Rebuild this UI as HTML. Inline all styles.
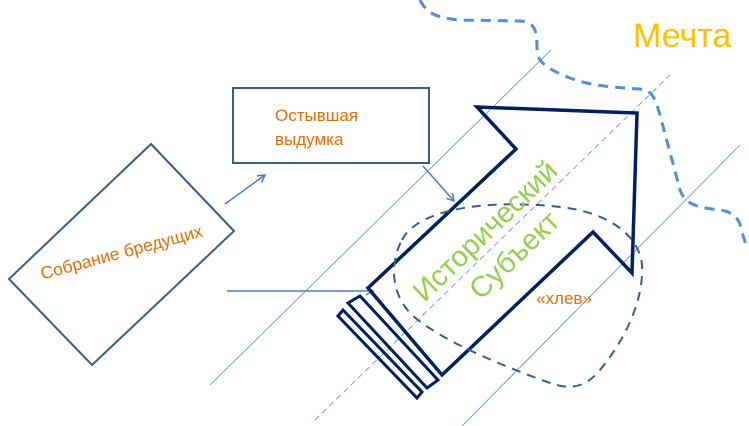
<!DOCTYPE html>
<html><head><meta charset="utf-8"><style>
html,body{margin:0;padding:0;background:#fff}
svg{display:block}
text{font-family:"Liberation Sans","DejaVu Sans",sans-serif}
</style></head><body>
<svg width="749" height="426" viewBox="0 0 749 426" xmlns="http://www.w3.org/2000/svg">
<defs>
<marker id="ah" markerWidth="10" markerHeight="10" refX="8" refY="5" orient="auto" markerUnits="userSpaceOnUse">
<path d="M1,1 L8,5 L1,9" fill="none" stroke="#4A7EBB" stroke-width="1.5"/>
</marker>
</defs>
<line x1="210" y1="385" x2="551" y2="50" stroke="#5B8BD0" stroke-width="0.8"/>
<line x1="315" y1="420" x2="670" y2="75" stroke="#5B8BD0" stroke-width="0.8" stroke-dasharray="6,4"/>
<line x1="462" y1="426" x2="740" y2="145" stroke="#5B8BD0" stroke-width="0.8"/>
<path d="M420,0 C425,10 432,18 460,20 L520,21 C535,22 537,30 537,50 C538,62 545,68 570,78 C590,86 620,88 640,89 C652,90 655,98 660,115 L680,190 C685,205 700,208 720,210 C735,212 740,220 742,232 L746,245" fill="none" stroke="#558ED5" stroke-width="3" stroke-dasharray="10,7"/>
<text x="633" y="47" font-size="34" fill="#FFC000">Мечта</text>
<polygon points="151,144 234,231 92,365 9,279" fill="#fff" stroke="#385D8A" stroke-width="2"/>
<text x="0" y="0" font-size="17.5" fill="#E46C0A" text-anchor="middle" transform="translate(123,258) rotate(-15)">Собрание бредущих</text>
<rect x="233" y="88" width="196" height="75" fill="#fff" stroke="#385D8A" stroke-width="2"/>
<text x="275" y="121" font-size="17" fill="#E46C0A">Остывшая</text>
<text x="275" y="145" font-size="17" fill="#E46C0A">выдумка</text>
<line x1="225" y1="204" x2="265" y2="175" stroke="#4A7EBB" stroke-width="1.5" marker-end="url(#ah)"/>
<line x1="227" y1="291" x2="373" y2="291" stroke="#4A7EBB" stroke-width="1.5" marker-end="url(#ah)"/>
<line x1="423" y1="166" x2="454" y2="201" stroke="#4A7EBB" stroke-width="1.5" marker-end="url(#ah)"/>
<polygon points="477,107 637,113 632,273 593,232 442,375 368,288 516,149" fill="none" stroke="#002060" stroke-width="3.5"/>
<polygon points="348,303 360,296 438,380 427,388" fill="none" stroke="#002060" stroke-width="3"/>
<polygon points="338,316 343,310 422,392 417,398" fill="none" stroke="#002060" stroke-width="3"/>
<path d="M402,240 C420,205 500,200 560,207 C615,213 640,240 642,265 C644,300 625,340 600,370 C585,388 570,390 550,383 C500,365 440,340 412,315 C390,293 390,262 402,240 Z" fill="none" stroke="#385D8A" stroke-width="2" stroke-dasharray="9,7"/>
<text x="0" y="0" font-size="29" fill="#92D050" text-anchor="middle" transform="translate(492,238) rotate(-44)">Исторический</text>
<text x="0" y="0" font-size="29" fill="#92D050" text-anchor="middle" transform="translate(521,262) rotate(-44)">Субъект</text>
<text x="564" y="304" font-size="17" fill="#E46C0A" text-anchor="middle">«хлев»</text>
</svg>
</body></html>
